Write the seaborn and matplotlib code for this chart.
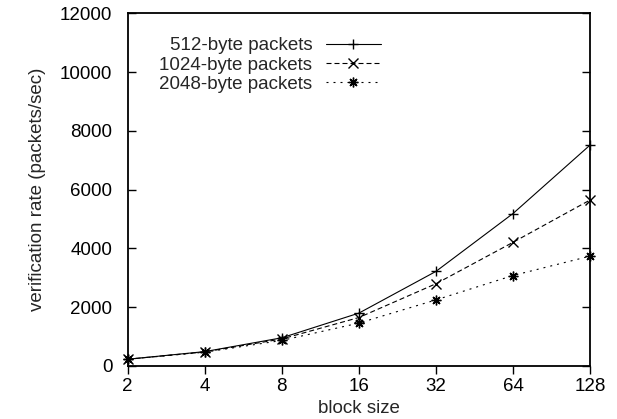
import matplotlib
matplotlib.use("Agg")
import matplotlib.pyplot as plt
import seaborn as sns
import pandas as pd

# Verification throughput for different packet sizes vs. block size
block_sizes = [2, 4, 8, 16, 32, 64, 128]
series_names = ["512-byte packets", "1024-byte packets", "2048-byte packets"]
rate_512 = [230, 490, 960, 1800, 3220, 5190, 7520]
rate_1024 = [230, 480, 920, 1650, 2800, 4210, 5650]
rate_2048 = [230, 470, 870, 1460, 2250, 3080, 3740]
y_ticks = [0, 2000, 4000, 6000, 8000, 10000, 12000]

df = pd.concat(
    [
        pd.DataFrame({"block": block_sizes, "rate": vals, "series": name})
        for name, vals in zip(series_names, [rate_512, rate_1024, rate_2048])
    ],
    ignore_index=True,
)

sns.set_theme(style="ticks")
plt.rcParams["font.family"] = ["Liberation Sans", "DejaVu Sans"]
fs = 13.5
plt.rcParams["font.size"] = fs

fig = plt.figure(figsize=(6.17, 4.19), dpi=100)
ax = fig.add_axes([0.2070, 0.1265, 0.7493, 0.8413])

lw = 0.8
sns.lineplot(
    data=df, x="block", y="rate", hue="series", style="series",
    hue_order=series_names, style_order=series_names,
    palette=["black"] * 3,
    markers={series_names[0]: "+", series_names[1]: "x", series_names[2]: (8, 2, 0)},
    dashes={series_names[0]: "", series_names[1]: (4.5, 2.7), series_names[2]: (1.8, 4.5)},
    markersize=7, markeredgewidth=1.0, markeredgecolor="black",
    linewidth=lw, legend=False, ax=ax, clip_on=False,
)

ax.set_xscale("log", base=2)
ax.set_xlim(2, 128)
ax.set_ylim(0, 12000)
ax.set_xticks(block_sizes)
ax.set_xticklabels([str(b) for b in block_sizes])
ax.xaxis.set_minor_locator(matplotlib.ticker.NullLocator())
ax.set_yticks(y_ticks)
ax.set_yticklabels([str(t) for t in y_ticks])

for side in ["left", "right", "top", "bottom"]:
    ax.spines[side].set_visible(True)
    ax.spines[side].set_linewidth(1.3)
    ax.spines[side].set_color("black")

ax.tick_params(axis="y", which="both", direction="in", length=6, width=1,
               left=True, right=True, labelsize=fs, pad=11, colors="black")
ax.tick_params(axis="x", which="both", direction="out", length=6, width=1,
               bottom=True, top=False, labelsize=fs, pad=2.5, colors="black")

ax.set_xlabel("block size", fontsize=fs, labelpad=3.5)
ax.set_ylabel("verification rate (packets/sec)", fontsize=fs, labelpad=10)

leg = ax.legend(
    ax.lines[:3], series_names,
    loc="upper right", bbox_to_anchor=(0.547, 0.933),
    frameon=False, markerfirst=False, handlelength=2.9, handletextpad=0.75,
    borderpad=0, borderaxespad=0, labelspacing=0.12, fontsize=fs,
)

fig.savefig("out.png", dpi=100, facecolor="white")
